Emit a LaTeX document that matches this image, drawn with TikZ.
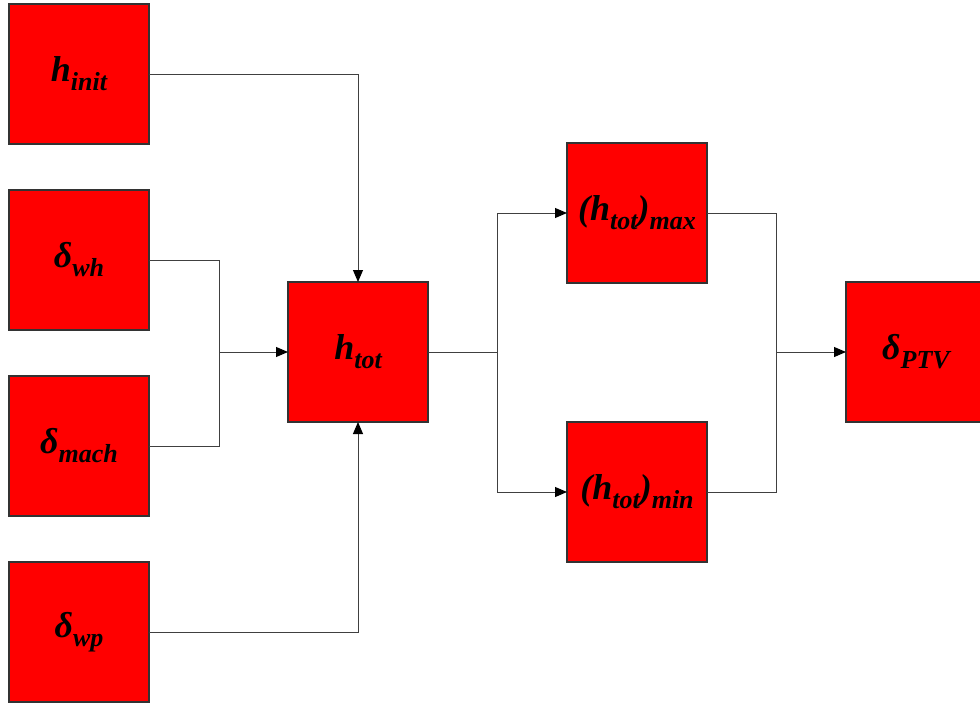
\documentclass[tikz,border=0pt]{standalone}
\usepackage{fontspec}
\setmainfont{Liberation Serif}
\usetikzlibrary{arrows.meta}
\newcommand\lowsub[1]{\raisebox{-9pt}{\fontsize{26}{26}\selectfont #1}}
\begin{document}
\begin{tikzpicture}[x=1pt,y=-1pt,
  blk/.style={draw=black!80,line width=1.4pt,fill=red,minimum width=140pt,minimum height=140pt,inner sep=0pt,outer sep=0pt,
    font=\fontsize{36}{40}\selectfont\bfseries\itshape},
  wire/.style={draw=black!75,line width=1pt},
  arr/.style={wire,-{Triangle[length=12pt,width=10pt,color=black]}}]
\useasboundingbox (0,0) rectangle (980,702);
\node[blk] (hinit) at (79,74)  {h\lowsub{init}};
\node[blk] (dwh)   at (79,260) {δ\lowsub{wh}};
\node[blk] (dmach) at (79,446) {δ\lowsub{mach}};
\node[blk] (dwp)   at (79,632) {δ\lowsub{wp}};
\node[blk] (htot)  at (358,352) {h\lowsub{tot}};
\node[blk] (hmax)  at (637,213) {(h\lowsub{tot})\lowsub{max}};
\node[blk] (hmin)  at (637,492) {(h\lowsub{tot})\lowsub{min}};
\node[blk] (dptv)  at (916,352) {δ\lowsub{PTV}};
\coordinate (j1) at (219,352);
\coordinate (j2) at (497,352);
\coordinate (j3) at (776,352);
% inputs
\draw[arr] (hinit.east) -| (htot.north);
\draw[arr] (dwp.east) -| (htot.south);
\draw[wire] (dwh.east) -- (j1 |- dwh.east) -- (j1 |- dmach.east) -- (dmach.east);
\draw[arr] (j1) -- (htot.west);
% split
\draw[wire] (htot.east) -- (j2);
\draw[wire] (j2 |- hmax.west) -- (j2 |- hmin.west);
\draw[arr] (j2 |- hmax.west) -- (hmax.west);
\draw[arr] (j2 |- hmin.west) -- (hmin.west);
% merge
\draw[wire] (hmax.east) -- (j3 |- hmax.east) -- (j3 |- hmin.east) -- (hmin.east);
\draw[arr] (j3) -- (dptv.west);
\end{tikzpicture}
\end{document}
